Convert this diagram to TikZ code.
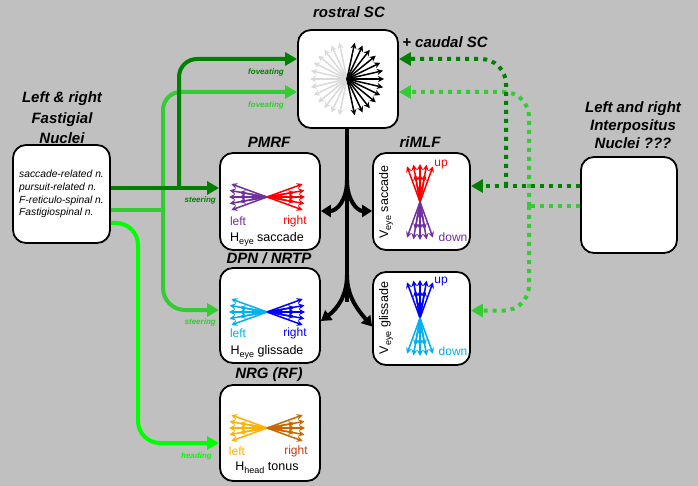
\documentclass[tikz,border=0pt]{standalone}
\usepackage{fontspec}
\setmainfont{Liberation Sans}
\usetikzlibrary{arrows.meta}
\definecolor{bgc}{RGB}{192,192,192}
\definecolor{dg}{RGB}{0,128,0}
\definecolor{lg}{RGB}{51,204,51}
\definecolor{brg}{RGB}{0,255,0}
\definecolor{pur}{RGB}{112,48,160}
\definecolor{lb}{RGB}{0,176,240}
\definecolor{org}{RGB}{255,176,0}
\definecolor{brn}{RGB}{204,102,0}
\definecolor{rdb}{RGB}{200,60,20}
\definecolor{lgray}{RGB}{218,218,218}
\newcommand\lowsub[1]{\raisebox{-3pt}{\fontsize{9}{9}\selectfont #1}}
\newcommand\myfan[3]{%
  \foreach \a in {-20,-10,0,10,20} \draw[fa,#3] (#1) -- ++({#2+\a}:38);
  \foreach \a in {-10,0,10} \draw[fa,#3] (#1) -- ++({#2+\a}:28);
  \draw[fa,#3] (#1) -- ++({#2}:18);
}
\begin{document}
\begin{tikzpicture}[x=1pt,y=-1pt,
  box/.style={draw=black,line width=1.8pt,fill=white,rounded corners=13pt,inner sep=0pt},
  ttl/.style={font=\fontsize{15}{19}\selectfont\bfseries\itshape,align=center,inner sep=0pt},
  conn/.style={line width=4pt},
  tipg/.style={-{Triangle[length=12pt,width=13pt]}},
  tipb/.style={-{Triangle[length=10pt,width=12pt]}},
  dotc/.style={line width=4pt,dash pattern=on 4pt off 5pt},
  lbl/.style={font=\fontsize{8}{9}\selectfont\bfseries\itshape,inner sep=0pt},
  fa/.style={line width=1.5pt,-{Stealth[length=6pt,width=6pt]}},
  lr/.style={font=\fontsize{12}{13}\selectfont,inner sep=0pt},
  hl/.style={font=\fontsize{12.5}{13}\selectfont,inner sep=0pt},
]
\fill[bgc] (0,0) rectangle (698,486);
\useasboundingbox (0,0) rectangle (698,486);

% boxes
\node[box,minimum width=100pt,minimum height=98pt] (sc) at (348,79) {};
\node[box,minimum width=97pt,minimum height=98pt,align=left,font=\fontsize{10.3}{12.7}\selectfont\itshape] (fn) at (61.5,194)
  {saccade-related n.\\pursuit-related n.\\F-reticulo-spinal n.\\Fastigiospinal n.};
\node[box,minimum width=100pt,minimum height=97pt] (pmrf) at (270,201.5) {};
\node[box,minimum width=100pt,minimum height=95pt] (dpn) at (270,315.5) {};
\node[box,minimum width=100pt,minimum height=96pt] (nrg) at (270,433) {};
\node[box,minimum width=97pt,minimum height=97pt] (rimlf) at (421.5,201.5) {};
\node[box,minimum width=97pt,minimum height=93pt] (vgl) at (421.5,318.5) {};
\node[box,minimum width=96pt,minimum height=96pt] (ip) at (629,205) {};

% titles
\node[ttl] (tsc) at (349,12) {rostral SC};
\node[ttl] (tcaud) at (445,42) {+ caudal SC};
\node[ttl,font=\fontsize{15}{20.5}\selectfont\bfseries\itshape] (tfn) at (62,118) {Left \& right\\Fastigial\\Nuclei};
\node[ttl,font=\fontsize{15}{18}\selectfont\bfseries\itshape] (tip) at (633,125) {Left and right\\Interpositus\\Nuclei ???};
\node[ttl] (tpmrf) at (269,142) {PMRF};
\node[ttl] (trimlf) at (420,142) {riMLF};
\node[ttl] (tdpn) at (269,258) {DPN / NRTP};
\node[ttl] (tnrg) at (269,375) {NRG (RF)};

% junctions
\coordinate (j1) at (179,188);
\coordinate (j2) at (163,210);
\coordinate (j3) at (506,186);
\coordinate (j4) at (529,206);
\coordinate (fk1) at (347,180);
\coordinate (fk2) at (347,275);
\coordinate (fkend) at (347,302);

% light green
\draw[conn,lg] ([yshift=-16pt]fn.east) -- (j2);
\draw[conn,lg,tipg,rounded corners=18pt] (j2) |- ([yshift=-13pt]sc.west);
\draw[conn,lg,tipg,rounded corners=22pt] (j2) |- ([yshift=5.5pt]dpn.west);
% dark green
\draw[conn,dg,tipg] ([yshift=6pt]fn.east) -- ([yshift=13.5pt]pmrf.west);
\draw[conn,dg,tipg,rounded corners=18pt] (j1) |- ([yshift=20pt]sc.west);
% bright green
\draw[conn,brg,tipg,rounded corners=22pt] ([yshift=-29pt]fn.east) -- (138,223) -- (138,443) -- ([yshift=-10pt]nrg.west);

% dotted light green
\draw[dotc,lg] ([yshift=-1pt]ip.west) -- (j4);
\draw[dotc,lg,tipg,rounded corners=25pt] (j4) |- ([yshift=-13pt]sc.east);
\draw[dotc,lg,tipg,rounded corners=25pt] (j4) |- ([yshift=8pt]vgl.east);
% dotted dark green
\draw[dotc,dg,tipg] ([yshift=19pt]ip.west) -- ([yshift=15.5pt]rimlf.east);
\draw[dotc,dg,tipg,rounded corners=25pt] (j3) |- ([yshift=20pt]sc.east);

% black
\draw[conn,black] ([xshift=-1pt]sc.south) -- (fkend);
\draw[conn,black,tipb] (fk1) .. controls (347,200) and (337,211) .. ([yshift=-9.5pt]pmrf.east);
\draw[conn,black,tipb] (fk1) .. controls (347,200) and (357,211) .. ([yshift=-9.5pt]rimlf.west);
\draw[conn,black,tipb] (fk2) .. controls (347,296) and (337,309) .. ([yshift=-5.5pt]dpn.east);
\draw[conn,black,tipb] (fk2) .. controls (347,296) and (357,309) .. ([yshift=-8pt]vgl.west);

% edge labels
\node[lbl,text=dg,anchor=east] (l1) at (284,72) {foveating};
\node[lbl,text=lg,anchor=east] (l2) at (284,105) {foveating};
\node[lbl,text=dg,anchor=east] (l3) at (216,200) {steering};
\node[lbl,text=lg,anchor=east] (l4) at (216,322) {steering};
\node[lbl,text=brg,anchor=east] (l5) at (212,456) {heading};

% fans
\coordinate (csc) at (347,79);
\foreach \a in {102,115,...,258} \draw[fa,lgray] (csc) -- ++(\a:37);
\foreach \a in {-78,-65,...,78} \draw[fa,black] (csc) -- ++(\a:37);

\coordinate (cp) at (267,197);
\myfan{cp}{180}{pur}
\myfan{cp}{0}{red}
\node[lr,text=pur] (pl) at (238,221) {left};
\node[lr,text=red] (pr) at (295,221) {right};
\node[hl] (ph) at (267,239) {H\lowsub{eye} saccade};

\coordinate (cd) at (267,312);
\myfan{cd}{180}{lb}
\myfan{cd}{0}{blue}
\node[lr,text=lb] (dl) at (238,333) {left};
\node[lr,text=blue] (dr) at (295,333) {right};
\node[hl] (dh) at (267,352) {H\lowsub{eye} glissade};

\coordinate (cn) at (267,428);
\myfan{cn}{180}{org}
\myfan{cn}{0}{brn}
\node[lr,text=org] (nl) at (237,451) {left};
\node[lr,text=rdb] (nr) at (296,451) {right};
\node[hl] (nh) at (267,468) {H\lowsub{head} tonus};

\coordinate (cr) at (420,202);
\myfan{cr}{-90}{red}
\myfan{cr}{90}{pur}
\node[lr,text=red] (ru) at (441,165) {up};
\node[lr,text=pur] (rd) at (453,237) {down};
\node[hl,rotate=90] (rv) at (386,202) {V\lowsub{eye} saccade};

\coordinate (cv) at (420,318);
\myfan{cv}{-90}{blue}
\myfan{cv}{90}{lb}
\node[lr,text=blue] (vu) at (441,282) {up};
\node[lr,text=lb] (vd) at (453,351) {down};
\node[hl,rotate=90] (vv) at (386,318) {V\lowsub{eye} glissade};
\end{tikzpicture}
\end{document}
